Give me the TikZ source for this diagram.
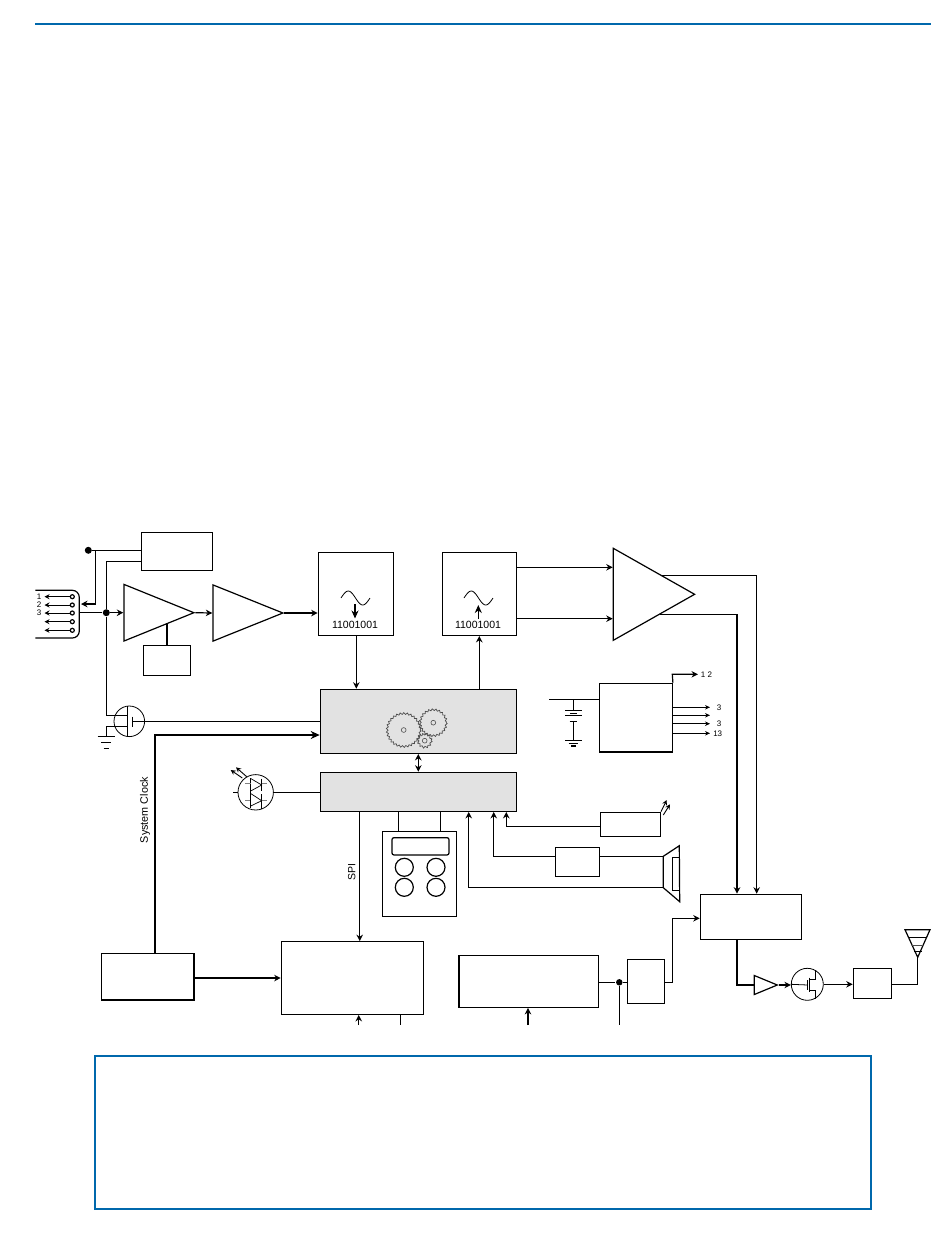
\documentclass[tikz,border=0pt]{standalone}
\usepackage{fontspec}
\setmainfont{Liberation Sans}
\usepackage{tikz}
\usetikzlibrary{arrows.meta,shapes.geometric,decorations.pathmorphing}
\definecolor{framecol}{HTML}{0068AC}
\definecolor{panelcol}{HTML}{E2E2E2}

\begin{document}
\begin{tikzpicture}[
  x=1pt,y=-1pt,
  >={Stealth[length=6.5pt,width=6.5pt]},
  line width=1.2pt,
  font=\fontsize{10.5}{12}\selectfont,
  blockbox/.style={draw,inner sep=0pt,minimum width=#1},
  panelbox/.style={draw,fill=panelcol,inner sep=0pt,minimum width=#1},
  ampshape/.style={draw,isosceles triangle,isosceles triangle stretches,inner sep=0pt,anchor=lower side},
  devcircle/.style={circle,draw,inner sep=0pt,minimum size=#1},
  keycircle/.style={circle,draw,inner sep=0pt,minimum size=18pt},
  pinnode/.style={circle,draw,inner sep=0pt,minimum size=4pt},
  dotnode/.style={circle,fill=black,inner sep=0pt,minimum size=7pt},
  smalltext/.style={font=\fontsize{8}{9}\selectfont,inner sep=0pt},
  gearline/.style={draw=black!70,line width=.7pt,decorate,decoration={zigzag,segment length=3.5pt,amplitude=.9pt}},
  feedline/.style={line width=2.2pt,-{Stealth[length=9pt,width=8pt]}}
]
\useasboundingbox (0,0) rectangle (950,1254);

% page rule and note frame
\coordinate (ruleL) at (35,24);
\coordinate (ruleR) at (931,24);
\draw[framecol,line width=1.2pt] (ruleL) -- (ruleR);
\node[draw=framecol,line width=2pt,minimum width=776pt,minimum height=153pt,inner sep=0pt] (note) at (483,1132.5) {};

% receive chain
\node[blockbox=71.5pt,minimum height=38pt] (limiter) at (177,551.3) {};
\node[ampshape,minimum height=70pt,minimum width=56.7pt] (lna) at (123.3,612.7) {};
\node[ampshape,minimum height=70pt,minimum width=56.3pt] (vga) at (212.3,613) {};
\node[blockbox=47.4pt,minimum height=30pt] (agc) at (167,660.3) {};
\node[blockbox=75pt,minimum height=83pt] (adc) at (355.8,593.8) {};
\node[blockbox=74.4pt,minimum height=83pt] (dac) at (479.5,593.8) {};
\node[ampshape,minimum height=81.3pt,minimum width=92pt] (pa) at (612.7,594.3) {};

% digital blocks
\node[panelbox=196.4pt,minimum height=64pt] (dsp) at (418.5,721.3) {};
\node[panelbox=196.4pt,minimum height=39pt] (mcu) at (418.5,791.8) {};
\node[blockbox=73pt,minimum height=68.7pt] (pmu) at (635.8,717.7) {};
\node[blockbox=59.6pt,minimum height=23.6pt] (ledbox) at (630.5,824.5) {};
\node[blockbox=44.4pt,minimum height=29.4pt] (spkamp) at (577.5,862) {};
\node[blockbox=74.4pt,minimum height=85pt] (keypad) at (419.5,873.8) {};
\node[draw,rounded corners=2pt,inner sep=0pt,minimum width=57pt,minimum height=17.3pt] (lcd) at (420.5,846.3) {};
\node[keycircle] (key1) at (404.3,867.3) {};
\node[keycircle] (key2) at (436,867.3) {};
\node[keycircle] (key3) at (404.3,887.3) {};
\node[keycircle] (key4) at (436,887.3) {};

% lower row
\node[blockbox=92.5pt,minimum height=46.5pt] (clock) at (147.8,976.8) {};
\node[blockbox=142.4pt,minimum height=72.6pt] (memory) at (352.5,978) {};
\node[blockbox=139.7pt,minimum height=52pt] (micblock) at (528.9,981.3) {};
\node[blockbox=37.4pt,minimum height=44pt] (micamp) at (646,981.3) {};
\node[blockbox=101.4pt,minimum height=45pt] (mixer) at (751,916.8) {};
\node[ampshape,minimum height=23pt,minimum width=19pt] (driver) at (753.7,985) {};
\node[devcircle=32pt,line width=.8pt] (fet) at (807.3,984.3) {};
\node[blockbox=38.4pt,minimum height=30pt] (filter) at (872.5,983.3) {};

% input connector
\node[pinnode] (pin1) at (72.3,596.7) {};
\node[pinnode] (pin2) at (72.3,605) {};
\node[pinnode] (pin3) at (72.3,613) {};
\node[pinnode] (pin4) at (72.3,621.7) {};
\node[pinnode] (pin5) at (72.3,630.3) {};
\coordinate (plugT) at (35.3,590.3);
\coordinate (plugB) at (35.3,638);
\coordinate (plugE) at (79.3,612.7);
\draw[rounded corners=7pt] (plugT) -- (plugE |- plugT) -- (plugE |- plugB) -- (plugB);
\foreach \p/\ylab in {1/596.7,2/605,3/613,4/621.7,5/630.3}
  \draw[->,line width=.9pt,>={Stealth[length=5pt,width=5pt]}] (pin\p) -- (44.5,\ylab);
\node[smalltext] (pinlab1) at (39,596.7) {1};
\node[smalltext] (pinlab2) at (39,605) {2};
\node[smalltext] (pinlab3) at (39,613) {3};

% supply and input wiring
\node[dotnode] (vdot) at (88.3,550.3) {};
\node[dotnode] (injoin) at (106.3,612.7) {};
\draw (vdot) -- (limiter.west |- vdot);
\draw[->] (95.7,550.3) -- (95.7,604) -- (81,604);
\draw (limiter.west |- 0,561.3) -- (106.3,561.3) -- (injoin);
\draw (plugE) -- (injoin);
\draw[->] (injoin) -- (lna.lower side);
\draw[->] (lna.apex) -- (vga.lower side);
\draw[->] (vga.apex) -- (adc.west |- vga.apex);
\draw (agc.north) -- (agc.north |- 0,623);

% mosfet at the input
\node[devcircle=30.6pt,line width=.8pt] (swfet) at (129.3,721.3) {};
\coordinate (gnd1) at (106.3,736.7);
\draw (injoin) -- (106.3,715.7) -- (127.7,715.7);
\draw (127.7,726.7) -- (106.3,726.7) -- (gnd1);
\draw[line width=.8pt] (swfet.north -| 127.7,0) -- (swfet.south -| 127.7,0);
\draw (132.7,716.7) -- (132.7,726.7);
\draw (132.7,721.7) -- (dsp.west |- 0,721.7);
\draw (97.7,736.7) -- (114.7,736.7);
\draw (101,742.7) -- (111,742.7);
\draw (103.5,748.3) -- (109,748.3);

% clock
\draw[feedline] (154.7,953.5) -- (154.7,735) -- (dsp.west |- 0,735);
\draw[->] (clock.east |- memory) -- (memory.west);
\node[rotate=90,font=\fontsize{10.8}{12}\selectfont,inner sep=0pt] (clocklab) at (145,810) {System Clock};

% converters
\draw[smooth,line width=.8pt] plot[domain=0:360,samples=25] ({341+\x/360*29},{598-7*sin(\x)});
\draw[smooth,line width=.8pt] plot[domain=0:360,samples=25] ({464+\x/360*29},{598-7*sin(\x)});
\draw[->,>={Stealth[length=8pt,width=7pt]}] (355,604) -- (355,618.5);
\draw[->,>={Stealth[length=8pt,width=7pt]}] (478.3,619) -- (478.3,605);
\node[inner sep=0pt] (adcbits) at (355,624.7) {11001001};
\node[inner sep=0pt] (dacbits) at (478,624.7) {11001001};
\draw[->] (adc.south -| 356.3,0) -- (dsp.north -| 356.3,0);
\draw[->] (dsp.north -| 479.3,0) -- (dac.south -| 479.3,0);
\draw[<->] (dsp.south -| 418.3,0) -- (mcu.north -| 418.3,0);
\draw[->] (dac.east |- 0,567.3) -- (pa.lower side |- 0,567.3);
\draw[->] (dac.east |- 0,618.7) -- (pa.lower side |- 0,618.7);

% gears
\draw[gearline] (403.7,730) circle[radius=16.5];
\draw[gearline] (433.3,722.7) circle[radius=13];
\draw[gearline] (424.7,740.7) circle[radius=6.5];
\foreach \gx/\gy in {403.7/730,433.3/722.7,424.7/740.7}
  \draw[draw=black!70,line width=.6pt] (\gx,\gy) circle[radius=2.4];

% LED driver circle
\node[devcircle=35.4pt,line width=.8pt] (ledfet) at (255.7,792.3) {};
\draw (ledfet) -- (mcu.west |- ledfet);
\draw (233.3,792.3) -- (ledfet.west);
\draw[line width=.7pt] (250.7,778) -- (250.7,808);
\draw[line width=.7pt] (250.7,778.5) -- (261.7,785) -- (250.7,791);
\draw[line width=.7pt] (261.7,778.5) -- (261.7,791);
\draw[line width=.7pt] (250.7,793.5) -- (261.7,800.7) -- (250.7,806);
\draw[line width=.7pt] (261.7,794) -- (261.7,809);
\draw[black!50,line width=.7pt] (245,783.3) -- (250.7,783.3) (261.7,783.3) -- (266.7,783.3);
\draw[black!50,line width=.7pt] (250,800.7) -- (245,800.7) (261.7,800.7) -- (266.7,800.7);
\draw[->,line width=.9pt,>={Stealth[length=5pt,width=5pt]}] (246.7,776.7) -- (236,767.3);
\draw[->,line width=.9pt,>={Stealth[length=5pt,width=5pt]}] (242.3,778) -- (230.7,770);

% battery and power outputs
\draw (549.3,699.3) -- (pmu.west |- 0,699.3);
\draw (573.3,699.3) -- (573.3,710.3);
\draw (565,710.3) -- (582.3,710.3);
\draw[line width=.6pt] (570,713) -- (576.5,713);
\draw (565,715.7) -- (582.3,715.7);
\draw (569.5,721.3) -- (577,721.3);
\draw (573.3,721.3) -- (573.3,740.3);
\draw (565,740.3) -- (582.3,740.3);
\draw (568.5,743.5) -- (578,743.5);
\draw (571,746) -- (575.5,746);
\draw[->] (pmu.north east) -- (672.3,674.3) -- (698,674.3);
\node[smalltext,anchor=west] (rail1) at (700.3,674.3) {1 2};
\foreach \ry in {707.3,715.3,723.7,733.3}
  \draw[->,>={Stealth[length=5pt,width=4.5pt]}] (pmu.east |- 0,\ry) -- (710,\ry);
\node[smalltext] (rail2) at (719,707.3) {3};
\node[smalltext] (rail3) at (719,723.7) {3};
\node[smalltext] (rail4) at (717.7,733.3) {13};

% status LED, speaker
\draw[->] (ledbox.west |- 0,826.7) -- (506.3,826.7) -- (mcu.south -| 506.3,0);
\draw[->,line width=.9pt,>={Stealth[length=5pt,width=5pt]}] (661,811.7) -- (666.7,800);
\draw[->,line width=.9pt,>={Stealth[length=5pt,width=5pt]}] (663.3,815) -- (670,804.3);
\coordinate (spkA) at (663.3,856.3);
\coordinate (spkB) at (663.3,887.7);
\draw[->] (spkamp.west |- spkA) -- (493.7,856.3) -- (mcu.south -| 493.7,0);
\draw (spkamp.east |- spkA) -- (spkA);
\draw[->] (spkB) -- (468.7,887.7) -- (mcu.south -| 468.7,0);
\draw (spkA) -- (679.3,845.7) -- (679.7,901.7) -- (spkB) -- cycle;
\draw (679.5,857.3) -- (672.3,857.3) -- (672.3,890.3) -- (679.5,890.3);

% keypad and memory wiring
\draw (mcu.south -| 398.3,0) -- (keypad.north -| 398.3,0);
\draw (mcu.south -| 440.3,0) -- (keypad.north -| 440.3,0);
\draw[->] (mcu.south -| 359.7,0) -- (memory.north -| 359.7,0);
\node[rotate=90,font=\fontsize{10.5}{12}\selectfont,inner sep=0pt] (spilab) at (351.7,871.7) {SPI};
\draw[->] (358.7,1025) -- (memory.south -| 358.7,0);
\draw (memory.south -| 400.3,0) -- (400.3,1025);

% transmit chain
\node[dotnode,minimum size=6.5pt] (micjoin) at (619.3,982.3) {};
\draw[->] (528,1025) -- (micblock.south -| 528,0);
\draw (micblock.east |- micjoin) -- (micjoin) -- (micamp.west |- micjoin);
\draw (micjoin) -- (619.3,1024.7);
\draw[->] (micamp.east |- micjoin) -- (672.3,982.3) -- (672.3,918.3) -- (mixer.west |- 0,918.3);
\draw[->] (660,614.3) -- (737,614.3) -- (mixer.north -| 737,0);
\draw[->] (661.7,575.3) -- (756.7,575.3) -- (mixer.north -| 756.7,0);
\draw[line width=1.8pt] (mixer.south -| 737,0) -- (737,985) -- (driver.lower side);
\draw[->] (driver.apex) -- (fet.west |- driver.apex);
\draw[line width=.8pt] (fet.west) -- (807.7,985);
\draw[line width=.8pt] (807.7,980) -- (807.7,990);
\draw[line width=.8pt] (809,979) -- (815,979) -- (815,969.5);
\draw[line width=.8pt] (809,990) -- (815,990) -- (815,999);
\draw[line width=.8pt] (809,977.5) -- (809,991.5);
\draw[->] (fet.east) -- (filter.west |- fet.east);

% antenna
\coordinate (antfoot) at (917.7,957.3);
\draw (filter.east |- 0,984.7) -- (917.7,984.7) -- (antfoot);
\draw (905,929.7) -- (930,929.7) -- (antfoot) -- cycle;
\draw[line width=.8pt] (908,937.3) -- (927,937.3);
\draw[line width=1.3pt,black!70] (911.5,945.7) -- (924,945.7);
\draw[line width=.8pt] (914,951.7) -- (921.5,951.7);
\end{tikzpicture}
\end{document}
